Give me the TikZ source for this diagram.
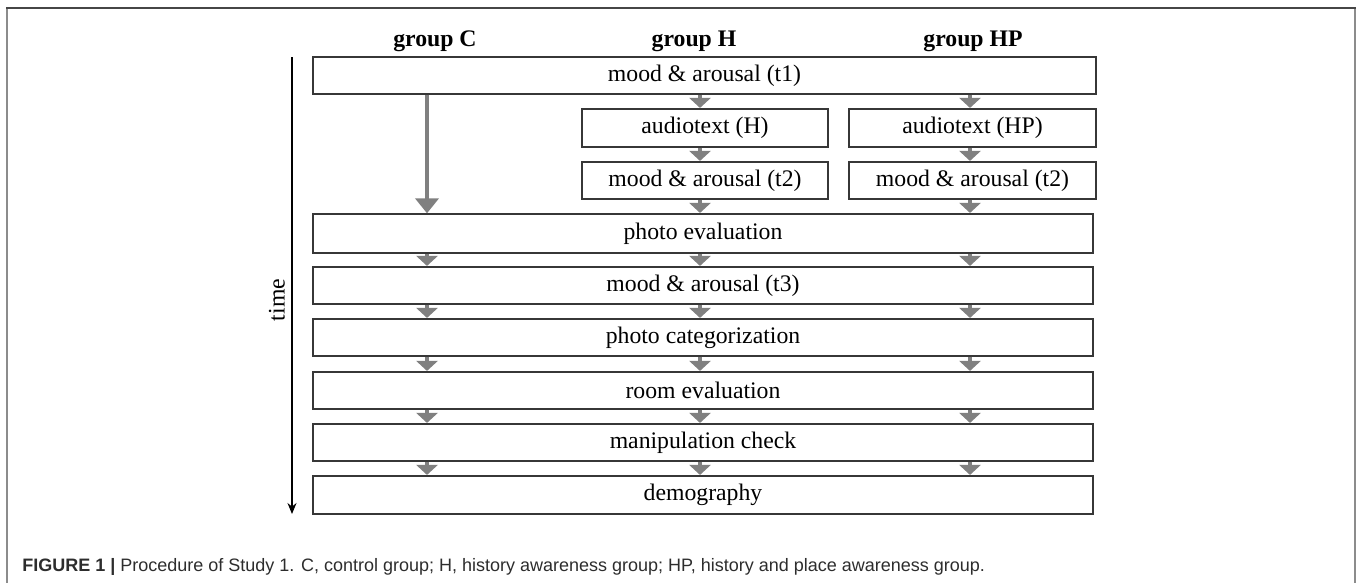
\documentclass[tikz,border=0pt]{standalone}
\usepackage{fontspec}
\setmainfont{Liberation Serif}
\newfontfamily\capfont{Liberation Sans}
\usetikzlibrary{arrows.meta}
\definecolor{arrgray}{RGB}{128,128,128}
\definecolor{boxline}{RGB}{55,55,55}
\definecolor{framedark}{RGB}{70,70,70}
\definecolor{frameside}{RGB}{140,140,140}
\definecolor{captext}{RGB}{45,45,45}
\tikzset{
  stepbox/.style={draw=boxline, line width=1.3pt*0.75, inner sep=0pt, fill=white,
    font=\fontsize{17.8}{20}\selectfont},
  garrow/.style={draw=arrgray, line width=4.5pt*0.75, -{Triangle[width=21*0.75pt,length=10*0.75pt]}, shorten >=0.3pt},
  glong/.style={draw=arrgray, line width=4.5pt*0.75, -{Triangle[width=23*0.75pt,length=15*0.75pt]}},
  header/.style={font=\fontsize{17.8}{20}\selectfont\bfseries, anchor=base},
}
\begin{document}
\begin{tikzpicture}[x=0.75pt,y=-0.75pt]
\useasboundingbox (0,0) rectangle (1357,583);
% outer frame
\draw[frameside, line width=2pt*0.75] (7,8) -- (7,583);
\draw[frameside, line width=2pt*0.75] (1355,8) -- (1355,583);
\draw[framedark, line width=2pt*0.75] (6,8) -- (1356,8);

% column coordinates
\coordinate (colC) at (427,0);
\coordinate (colH) at (700,0);
\coordinate (colHP) at (970,0);

% headers
\node[header] (hC) at (435,46) {group C};
\node[header] (hH) at (694,46) {group H};
\node[header] (hHP) at (973,46) {group HP};

% boxes
\node[stepbox, minimum width=783*0.75pt, minimum height=37*0.75pt] (t1) at (704.5,75.5) {mood \& arousal (t1)};
\node[stepbox, minimum width=246*0.75pt, minimum height=38*0.75pt] (audH) at (705,128) {audiotext (H)};
\node[stepbox, minimum width=247*0.75pt, minimum height=38*0.75pt] (audHP) at (972.5,128) {audiotext (HP)};
\node[stepbox, minimum width=246*0.75pt, minimum height=37*0.75pt] (mH) at (705,180.5) {mood \& arousal (t2)};
\node[stepbox, minimum width=247*0.75pt, minimum height=37*0.75pt] (mHP) at (972.5,180.5) {mood \& arousal (t2)};
\node[stepbox, minimum width=780*0.75pt, minimum height=39*0.75pt] (pe) at (703,233.5) {photo evaluation};
\node[stepbox, minimum width=780*0.75pt, minimum height=37*0.75pt] (t3) at (703,285.5) {mood \& arousal (t3)};
\node[stepbox, minimum width=780*0.75pt, minimum height=37*0.75pt] (pc) at (703,337.5) {photo categorization};
\node[stepbox, minimum width=780*0.75pt, minimum height=37*0.75pt] (re) at (703,390.5) {room evaluation};
\node[stepbox, minimum width=780*0.75pt, minimum height=37*0.75pt] (mc) at (703,442.5) {manipulation check};
\node[stepbox, minimum width=780*0.75pt, minimum height=38*0.75pt] (dg) at (703,495) {demography};

% arrows
\draw[glong] (t1.south -| colC) -- (pe.north -| colC);
\draw[garrow] (t1.south -| colH) -- (audH.north -| colH);
\draw[garrow] (t1.south -| colHP) -- (audHP.north -| colHP);
\draw[garrow] (audH.south -| colH) -- (mH.north -| colH);
\draw[garrow] (audHP.south -| colHP) -- (mHP.north -| colHP);
\draw[garrow] (mH.south -| colH) -- (pe.north -| colH);
\draw[garrow] (mHP.south -| colHP) -- (pe.north -| colHP);
\foreach \a/\b in {pe/t3, t3/pc, pc/re, re/mc, mc/dg}{
  \draw[garrow] (\a.south -| colC) -- (\b.north -| colC);
  \draw[garrow] (\a.south -| colH) -- (\b.north -| colH);
  \draw[garrow] (\a.south -| colHP) -- (\b.north -| colHP);
}

% time axis
\coordinate (tTop) at (292,57);
\coordinate (tBot) at (292,514);
\draw[black, line width=1.6pt*0.75, -{Stealth[length=11*0.75pt,width=9*0.75pt]}] (tTop) -- (tBot);
\node[rotate=90, font=\fontsize{17.8}{20}\selectfont] (time) at (277,300) {time};

% caption
\node[anchor=base west, inner sep=0pt, text=captext, font=\capfont\fontsize{13.5}{16}\selectfont] (cap) at (22,571)
  {\textbf{FIGURE 1 |} Procedure of Study 1. C, control group; H, history awareness group; HP, history and place awareness group.};
\end{tikzpicture}
\end{document}
